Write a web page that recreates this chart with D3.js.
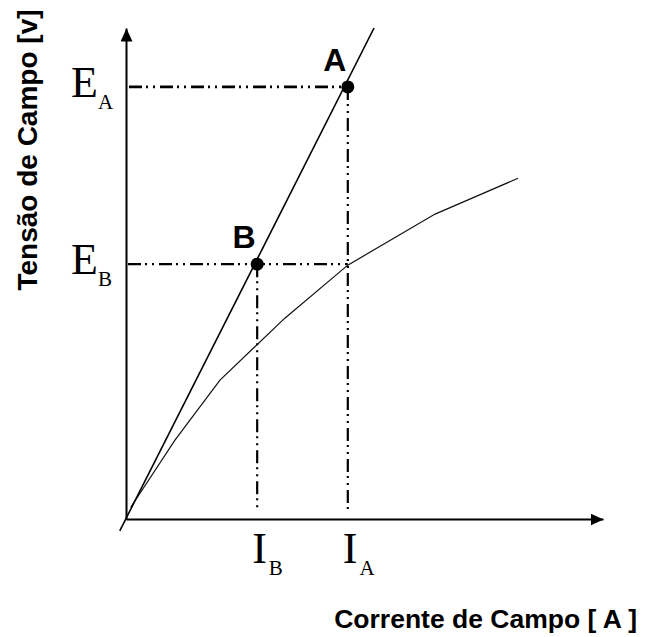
<!DOCTYPE html>
<html>
<head>
<meta charset="utf-8">
<script src="https://cdn.jsdelivr.net/npm/d3@7"></script>
<style>
  body { margin: 0; background: #fff; }
  svg { display: block; }
</style>
</head>
<body>
<div id="chart"></div>
<script>
// values (axis units 0..10)
const curveX = [0.10, 1.03, 1.97, 3.33, 4.65, 6.48, 8.22];
const curveY = [0.24, 1.61, 2.83, 4.09, 5.17, 6.21, 6.94];
const lineX = [-0.13, 5.2];
const lineY = [-0.24, 10.0];
const pointNames = ['A', 'B'];
const pointX = [4.65, 2.75];
const pointY = [8.8, 5.19];
const yLabels = ['A', 'B'];     // E_A, E_B
const xLabels = ['B', 'A'];     // I_B, I_A
const xTitle = 'Corrente de Campo [ A ]';
const yTitle = 'Tensão de Campo [v]';

const W = 645, H = 637;

const svg = d3.select('#chart')
  .append('svg')
  .attr('width', W)
  .attr('height', H);

// scales
const x = d3.scaleLinear().domain([0, 10]).range([126, 603]);
const y = d3.scaleLinear().domain([0, 10]).range([519, 28]);

// arrow head
const defs = svg.append('defs');
defs.append('marker')
  .attr('id', 'arrow')
  .attr('markerUnits', 'userSpaceOnUse')
  .attr('viewBox', '0 0 13 12')
  .attr('refX', 13)
  .attr('refY', 6)
  .attr('markerWidth', 13)
  .attr('markerHeight', 12)
  .attr('orient', 'auto')
  .append('path')
  .attr('d', 'M0,0L13,6L0,12Z')
  .attr('fill', '#000');

// axes, no ticks
const xAxis = svg.append('g')
  .attr('transform', `translate(0,${y(0)})`)
  .call(d3.axisBottom(x).tickValues([]).tickSizeOuter(0));
const yAxis = svg.append('g')
  .attr('transform', `translate(${x(0)},0)`)
  .call(d3.axisLeft(y).tickValues([]).tickSizeOuter(0));

[xAxis, yAxis].forEach(a => {
  a.select('.domain')
    .attr('stroke', '#000')
    .attr('stroke-width', 2)
    .attr('marker-end', 'url(#arrow)');
});

// dash-dot-dot guide lines
const dashPattern = '13,4,2,5,2,5';
const pA = 0, pB = 1;
const guides = [
  // E_A horizontal and I_A vertical
  { x1: x(0) + 3, y1: y(pointY[pA]), x2: x(pointX[pA]), y2: y(pointY[pA]), w: 2.6 },
  { x1: x(pointX[pA]), y1: y(pointY[pA]), x2: x(pointX[pA]), y2: y(0) - 8, w: 2.2 },
  // E_B horizontal, extended to the I_A line
  { x1: x(0) + 2, y1: y(pointY[pB]), x2: x(pointX[pA]), y2: y(pointY[pB]), w: 2.2 },
  { x1: x(pointX[pB]), y1: y(pointY[pB]), x2: x(pointX[pB]), y2: y(0) - 8, w: 2.2 }
];
svg.selectAll('.guide')
  .data(guides)
  .enter()
  .append('line')
  .attr('class', 'guide')
  .attr('x1', d => d.x1).attr('y1', d => d.y1)
  .attr('x2', d => d.x2).attr('y2', d => d.y2)
  .attr('stroke', '#000')
  .attr('stroke-width', d => d.w)
  .attr('stroke-dasharray', dashPattern);

// magnetisation curve
const line = d3.line().x(d => x(d[0])).y(d => y(d[1]));
svg.append('path')
  .datum(curveX.map((v, i) => [v, curveY[i]]))
  .attr('d', line)
  .attr('fill', 'none')
  .attr('stroke', '#111')
  .attr('stroke-width', 1.2);

// straight line through B and A
svg.append('path')
  .datum(lineX.map((v, i) => [v, lineY[i]]))
  .attr('d', line)
  .attr('fill', 'none')
  .attr('stroke', '#000')
  .attr('stroke-width', 1.6);

// points
svg.selectAll('.pt')
  .data(pointNames)
  .enter()
  .append('circle')
  .attr('class', 'pt')
  .attr('cx', (d, i) => x(pointX[i]))
  .attr('cy', (d, i) => y(pointY[i]))
  .attr('r', 6.5)
  .attr('fill', '#000');

svg.selectAll('.ptlabel')
  .data(pointNames)
  .enter()
  .append('text')
  .attr('class', 'ptlabel')
  .attr('x', (d, i) => x(pointX[i]) - 13)
  .attr('y', (d, i) => y(pointY[i]) - 16)
  .attr('text-anchor', 'middle')
  .style('font-family', 'Liberation Sans, Arial, sans-serif')
  .style('font-weight', 'bold')
  .style('font-size', '32px')
  .text(d => d);

// E labels on the y side
const serif = 'Liberation Serif, Times New Roman, serif';
const eLabels = svg.selectAll('.elabel')
  .data(yLabels)
  .enter()
  .append('text')
  .attr('class', 'elabel')
  .attr('x', 71)
  .attr('y', (d, i) => y(pointY[i]) + 10)
  .style('font-family', serif)
  .style('font-size', '44px');
eLabels.append('tspan').text('E');
eLabels.append('tspan')
  .attr('dy', 12)
  .style('font-size', '21px')
  .text(d => d);

// I labels under the x axis
const iLabels = svg.selectAll('.ilabel')
  .data(xLabels)
  .enter()
  .append('text')
  .attr('class', 'ilabel')
  .attr('x', d => x(pointX[pointNames.indexOf(d)]) - 5)
  .attr('y', 563)
  .style('font-family', serif)
  .style('font-size', '44px');
iLabels.append('tspan').text('I');
iLabels.append('tspan')
  .attr('dx', 2)
  .attr('dy', 12)
  .style('font-size', '21px')
  .text(d => d);

// axis titles
svg.append('text')
  .attr('x', 637)
  .attr('y', 628)
  .attr('text-anchor', 'end')
  .style('font-family', 'Liberation Sans, Arial, sans-serif')
  .style('font-weight', 'bold')
  .style('font-size', '26.5px')
  .text(xTitle);

svg.append('text')
  .attr('transform', 'translate(37,150) rotate(-90)')
  .attr('text-anchor', 'middle')
  .style('font-family', 'Liberation Sans, Arial, sans-serif')
  .style('font-weight', 'bold')
  .style('font-size', '28px')
  .text(yTitle);
</script>
</body>
</html>
